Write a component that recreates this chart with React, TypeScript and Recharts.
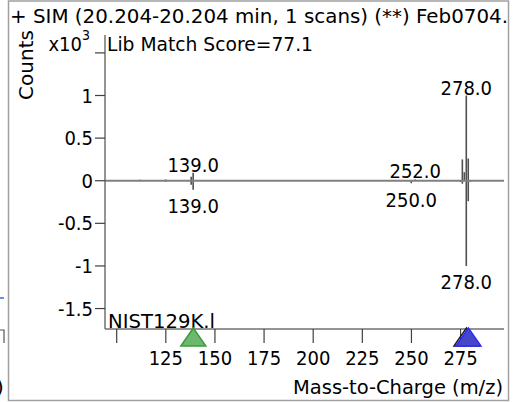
import React from 'react';
import {
  ComposedChart,
  Bar,
  XAxis,
  YAxis,
  ReferenceLine,
  Scatter,
  LabelList,
  Customized,
} from 'recharts';

// ---- data (counts in x10^3) ----
const mzValues = [112, 125, 138, 139, 250, 252, 264, 273, 275, 276, 277, 278, 279, 280];
const sampleCounts = [0.01, 0.015, 0.047, 0.094, 0, 0.015, 0.006, 0.006, 0.006, 0.25, 0.1, 1.0, 0.26, 0];
const libraryCounts = [0, -0.01, -0.047, -0.105, -0.03, 0, 0, 0, -0.015, -0.035, 0, -1.0, -0.24, -0.012];
const sampleLabels = ['', '', '', '139.0', '', '252.0', '', '', '', '', '', '278.0', '', ''];
const libraryLabels = ['', '', '', '139.0', '250.0', '', '', '', '', '', '', '278.0', '', ''];
const xTicks = [100, 125, 150, 175, 200, 225, 250, 275];
const yTicks = [-1.5, -1, -0.5, 0, 0.5, 1, 1.5];
const greenMarkMz = [139];
const blackMarkMz = [278];
const blueMarkMz = [279];

const titleText = '+ SIM (20.204-20.204 min, 1 scans) (**) Feb0704.';
const scoreText = 'Lib Match Score=77.1';
const libText = 'NIST129K.l';
const xTitle = 'Mass-to-Charge (m/z)';
const yTitle = 'Counts';

const X_DOMAIN: [number, number] = [94.05, 297.1];
const Y_DOMAIN: [number, number] = [-1.74, 1.71];

const FONT_NUM = "'DejaVu Sans Condensed', 'DejaVu Sans', sans-serif";
const FONT_TXT = "'DejaVu Sans', sans-serif";
const FS = 20;

const peaks = mzValues.map((mz, i) => ({
  mz,
  sample: sampleCounts[i],
  library: libraryCounts[i],
  sampleLabel: sampleLabels[i],
  libraryLabel: libraryLabels[i],
}));

const greenMarks = greenMarkMz.map((mz) => ({ mz, y: Y_DOMAIN[0] }));
const blackMarks = blackMarkMz.map((mz) => ({ mz, y: Y_DOMAIN[0] }));
const blueMarks = blueMarkMz.map((mz) => ({ mz, y: Y_DOMAIN[0] }));

const triangle = (fill: string, stroke: string) => (props: any) => {
  const { cx, cy } = props;
  if (cx == null || cy == null) return <g />;
  return (
    <polygon
      points={`${cx},${cy - 1} ${cx - 12.5},${cy + 17} ${cx + 12.5},${cy + 17}`}
      fill={fill}
      stroke={stroke}
      strokeWidth={1.5}
    />
  );
};

const TopLabel = (props: any) => {
  const { x, y, width, height, value } = props;
  if (!value) return null;
  const top = Math.min(y, y + height);
  return (
    <text x={x + width / 2} y={top - 1} textAnchor="middle" fontFamily={FONT_NUM} fontSize={FS} fill="#000">
      {value}
    </text>
  );
};

const BottomLabel = (props: any) => {
  const { x, y, width, height, value } = props;
  if (!value) return null;
  const bottom = Math.max(y, y + height);
  return (
    <text x={x + width / 2} y={bottom + 23.5} textAnchor="middle" fontFamily={FONT_NUM} fontSize={FS} fill="#000">
      {value}
    </text>
  );
};

const YTick = (props: any) => {
  const { x, y, payload } = props;
  const v = payload.value;
  if (v === 1.5) {
    return (
      <text x={x - 3} y={y - 1.7} textAnchor="end" fontFamily={FONT_NUM} fontSize={FS} fill="#000">
        x10
        <tspan dy={-11} fontSize={14}>3</tspan>
      </text>
    );
  }
  return (
    <text x={x} y={y} dy="0.355em" textAnchor="end" fontFamily={FONT_NUM} fontSize={FS} fill="#000">
      {String(v)}
    </text>
  );
};

const XTick = (props: any) => {
  const { x, y, payload } = props;
  const v = payload.value;
  if (v === 100) return <g />;
  return (
    <text x={x} y={y} dy="0.71em" textAnchor="middle" fontFamily={FONT_NUM} fontSize={FS} fill="#000">
      {String(v)}
    </text>
  );
};

const Decorations = () => (
  <g>
    <rect x={8.5} y={1} width={500} height={399.5} fill="none" stroke="#a0a0a0" strokeWidth={1.5} />
    {/* fragments of the neighbouring panel at the far left */}
    <line x1={0} y1={298} x2={4} y2={298} stroke="#3a6fd0" strokeWidth={1.5} />
    <polyline points="0,330 4,330 4,343" fill="none" stroke="#555" strokeWidth={1.2} />
    <text x={-4} y={394} fontFamily={FONT_TXT} fontSize={FS} fill="#000">)</text>
    <text x={10} y={23} fontFamily={FONT_TXT} fontSize={FS} fill="#000" textLength={498} lengthAdjust="spacingAndGlyphs">
      {titleText}
    </text>
    <text x={107} y={51} fontFamily={FONT_TXT} fontSize={FS} fill="#000" textLength={206} lengthAdjust="spacingAndGlyphs">
      {scoreText}
    </text>
    <text x={108} y={328} fontFamily={FONT_TXT} fontSize={FS} fill="#000" textLength={107} lengthAdjust="spacingAndGlyphs">
      {libText}
    </text>
    <text x={293} y={394} fontFamily={FONT_TXT} fontSize={FS} fill="#000" textLength={210} lengthAdjust="spacingAndGlyphs">
      {xTitle}
    </text>
    <text
      x={33}
      y={65}
      transform="rotate(-90 33 65)"
      textAnchor="middle"
      fontFamily={FONT_TXT}
      fontSize={FS}
      fill="#000"
    >
      {yTitle}
    </text>
  </g>
);

export default function App() {
  return (
    <div style={{ position: 'absolute', left: 0, top: 0, width: 523, height: 402, background: '#fff' }}>
      <ComposedChart
        width={523}
        height={402}
        data={peaks}
        stackOffset="sign"
        margin={{ top: 35, right: 19, bottom: 23, left: 8 }}
      >
        <XAxis
          type="number"
          dataKey="mz"
          domain={X_DOMAIN}
          ticks={xTicks}
          tick={<XTick />}
          tickSize={14}
          tickMargin={8}
          height={50}
          stroke="#707070"
          strokeWidth={1.5}
          tickLine={{ stroke: '#404040', strokeWidth: 1.2 }}
          interval={0}
        />
        <YAxis
          type="number"
          domain={Y_DOMAIN}
          ticks={yTicks}
          tick={<YTick />}
          tickSize={10}
          tickMargin={2}
          width={97}
          stroke="#707070"
          strokeWidth={1.5}
          tickLine={{ stroke: '#404040', strokeWidth: 1.2 }}
          interval={0}
        />
        <ReferenceLine y={0} stroke="#808080" strokeWidth={2} />
        <Bar dataKey="sample" stackId="s" barSize={1.6} fill="#505050" isAnimationActive={false}>
          <LabelList dataKey="sampleLabel" content={<TopLabel />} />
        </Bar>
        <Bar dataKey="library" stackId="s" barSize={1.6} fill="#505050" isAnimationActive={false}>
          <LabelList dataKey="libraryLabel" content={<BottomLabel />} />
        </Bar>
        <Scatter data={greenMarks} dataKey="y" shape={triangle('#6cb86c', '#3c9a3c')} isAnimationActive={false} />
        <Scatter data={blackMarks} dataKey="y" shape={triangle('none', '#202020')} isAnimationActive={false} />
        <Scatter data={blueMarks} dataKey="y" shape={triangle('#4646c8', '#2b2bff')} isAnimationActive={false} />
        <Customized component={Decorations} />
      </ComposedChart>
    </div>
  );
}
